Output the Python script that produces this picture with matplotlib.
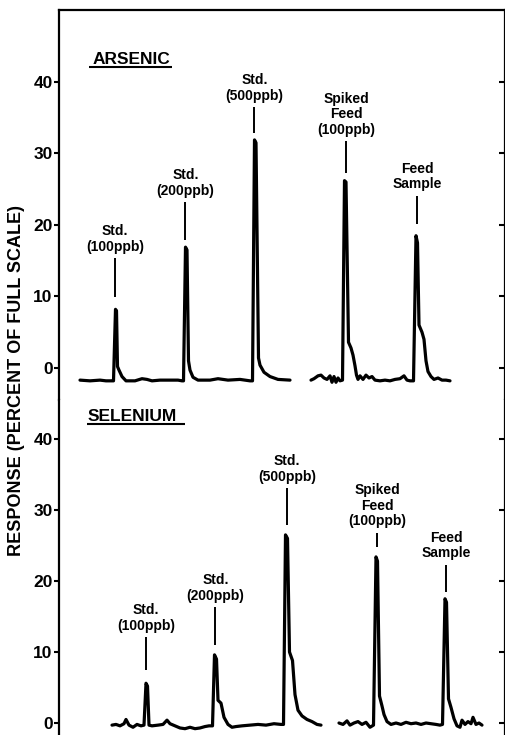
import matplotlib
matplotlib.use("Agg")
import matplotlib.pyplot as plt

plt.rcParams['font.family'] = ['Liberation Sans', 'DejaVu Sans']

# ---------------- data (time in arbitrary chart units, response in % full scale)
as1_t = [80, 90, 100, 106, 112, 113.5, 115.5, 116.5, 117.5, 119, 122, 126, 135, 142, 147, 152, 160, 170, 178, 182,
         183.5, 185.5, 187, 188.5, 190, 193, 198, 210, 218, 223, 228, 240, 250, 252.5, 254.5, 256, 258.5, 260, 264, 270,
         278, 290]
as1_r = [-1.7, -1.8, -1.7, -1.8, -1.8, -1.8, 8.2, 8.0, 0.2, -0.3, -1.2, -1.8, -1.8, -1.5, -1.6, -1.8, -1.7, -1.7, -1.7, -1.8,
         -1.8, 16.9, 16.5, 1.0, -0.3, -1.3, -1.7, -1.7, -1.5, -1.6, -1.7, -1.6, -1.8, -1.8, 31.9, 31.5, 1.4, 0.4, -0.6, -1.2,
         -1.6, -1.7]
as2_t = [311, 314, 318, 321, 324, 327, 330, 332, 334, 336, 338, 340, 342.5, 344.5, 346, 348.5, 351, 353, 355, 356.5,
         358, 360, 363, 366, 369, 372, 375, 380, 385, 390, 395, 400, 404, 407, 410, 413.5, 416, 417.5, 419, 422,
         424, 426, 428, 431, 434, 438, 442, 446, 450]
as2_r = [-1.7, -1.5, -1.1, -1.0, -1.4, -1.6, -1.1, -2.0, -1.2, -2.0, -1.4, -1.8, -1.7, 26.2, 26.0, 3.6, 2.8, 1.8, 0.3, -1.0,
         -1.6, -1.1, -1.6, -1.0, -1.4, -1.2, -1.7, -1.8, -1.7, -1.8, -1.6, -1.5, -1.1, -1.7, -1.8, -1.8, 18.5, 17.5, 6.0, 5.0,
         4.0, 1.0, -0.5, -1.2, -1.6, -1.4, -1.7, -1.7, -1.8]

se1_t = [112, 116, 120, 124, 126, 129, 133, 137, 141, 144, 146, 147.5, 149, 152, 158, 163, 167, 170, 175, 180,
         185, 190, 195, 200, 205, 209, 212.5, 214.5, 216.5, 218, 221, 224, 228, 232, 236, 242, 250, 258, 266, 274,
         281, 283.5, 285.5, 287.5, 289.5, 292.5, 295, 298, 302, 307, 312, 317, 321]
se1_r = [-0.3, -0.2, -0.4, -0.1, 0.5, -0.3, -0.6, -0.2, -0.4, -0.3, 5.6, 5.2, -0.3, -0.4, -0.3, -0.2, 0.4, -0.1, -0.4, -0.7,
         -0.8, -0.6, -0.8, -0.7, -0.5, -0.4, -0.4, 9.6, 9.0, 3.2, 2.8, 0.8, -0.2, -0.6, -0.5, -0.4, -0.3, -0.2, -0.3, -0.1,
         -0.2, -0.2, 26.5, 26.0, 10.0, 8.8, 4.0, 1.8, 1.0, 0.5, 0.2, -0.2, -0.3]
se2_t = [339, 343, 347, 350, 354, 358, 362, 366, 370, 373.5, 376, 377.5, 379.5, 382, 384, 387, 391, 396, 401, 406,
         411, 416, 421, 426, 431, 436, 440, 442.5, 445, 446.5, 448.5, 451, 454, 457, 460, 462, 465, 468, 471, 473,
         476, 479, 482]
se2_r = [0.0, -0.2, 0.3, -0.3, 0.0, 0.2, -0.2, 0.1, -0.6, -0.3, 23.4, 22.8, 3.8, 2.4, 1.2, 0.2, -0.2, 0.0, -0.2, 0.1,
         -0.1, 0.0, -0.2, 0.0, -0.1, -0.2, -0.3, -0.2, 17.5, 17.0, 3.4, 2.2, 0.6, -0.4, -0.6, 0.4, -0.2, 0.2, -0.1, 0.8,
         -0.2, 0.0, -0.3]

peak_labels = ["Std.\n(100ppb)", "Std.\n(200ppb)", "Std.\n(500ppb)", "Spiked\nFeed\n(100ppb)", "Feed\nSample"]
as_label_t = [115, 185.5, 254.5, 346, 417.5]
as_mark_top = [15.4, 23.2, 36.5, 31.7, 24.1]
as_mark_bot = [9.9, 17.9, 32.9, 27.3, 20.1]
se_label_t = [146, 215.5, 287, 377, 446.5]
se_mark_top = [12.1, 16.3, 33.1, 26.8, 22.3]
se_mark_bot = [7.5, 11.0, 27.9, 24.8, 18.5]

yticks = [0, 10, 20, 30, 40]
ytick_labels = ["0", "10", "20", "30", "40"]
panel_titles = ["ARSENIC", "SELENIUM"]
ylabel = "RESPONSE (PERCENT OF FULL SCALE)"

# ---------------- figure
W_PX, H_PX = 506, 735
fig = plt.figure(figsize=(W_PX / 100, H_PX / 100), dpi=100)
L = 59 / W_PX
Wd = 446 / W_PX
ax_as = fig.add_axes([L, 335 / H_PX, Wd, 390 / H_PX])
ax_se = fig.add_axes([L, 0, Wd, 335 / H_PX])

LW = 2.3
for ax, segs, ylim in [(ax_as, [(as1_t, as1_r), (as2_t, as2_r)], (-4.48, 50.07)),
                       (ax_se, [(se1_t, se1_r), (se2_t, se2_r)], (-1.69, 45.5))]:
    for t, r in segs:
        ax.plot(t, r, color='black', lw=LW, solid_joinstyle='round', solid_capstyle='round')
    ax.set_xlim(59, 505)
    ax.set_ylim(*ylim)
    ax.set_xticks([])
    ax.set_yticks(yticks)
    ax.set_yticklabels(ytick_labels, fontsize=12.5, fontweight='bold')
    ax.tick_params(axis='y', direction='out', length=3.5, width=1.5, pad=1, left=True, right=False)
    ax.spines['bottom'].set_visible(False)
    for s in ['left', 'right', 'top']:
        ax.spines[s].set_linewidth(1.6)
    tw = ax.twinx()
    tw.set_ylim(*ylim)
    tw.set_yticks(yticks)
    tw.tick_params(axis='y', direction='in', length=4.5, width=1.5, labelright=False, right=True)
    for s in tw.spines.values():
        s.set_visible(False)

ax_se.spines['top'].set_visible(False)

# peak labels with marker lines
for ax, xs, tops, bots in [(ax_as, as_label_t, as_mark_top, as_mark_bot),
                           (ax_se, se_label_t, se_mark_top, se_mark_bot)]:
    ax.vlines(xs, bots, tops, color='black', lw=1.4)
    for x, top, lab in zip(xs, tops, peak_labels):
        ax.text(x, top + 0.6, lab, ha='center', va='bottom', fontsize=10,
                fontweight='bold', linespacing=1.15)

# panel titles with underline
ax_as.text(93, 42.55, panel_titles[0], ha='left', va='baseline', fontsize=12.5, fontweight='bold')
ax_as.hlines(42.1, 89, 172, color='black', lw=1.5)
ax_se.text(88, 42.55, panel_titles[1], ha='left', va='baseline', fontsize=12.5, fontweight='bold')
ax_se.hlines(42.1, 87, 185, color='black', lw=1.5)

fig.text(16.5 / W_PX, 1 - 380 / H_PX, ylabel, rotation=90, ha='center', va='center',
         fontsize=13, fontweight='bold')

fig.savefig("out.png", dpi=100)
